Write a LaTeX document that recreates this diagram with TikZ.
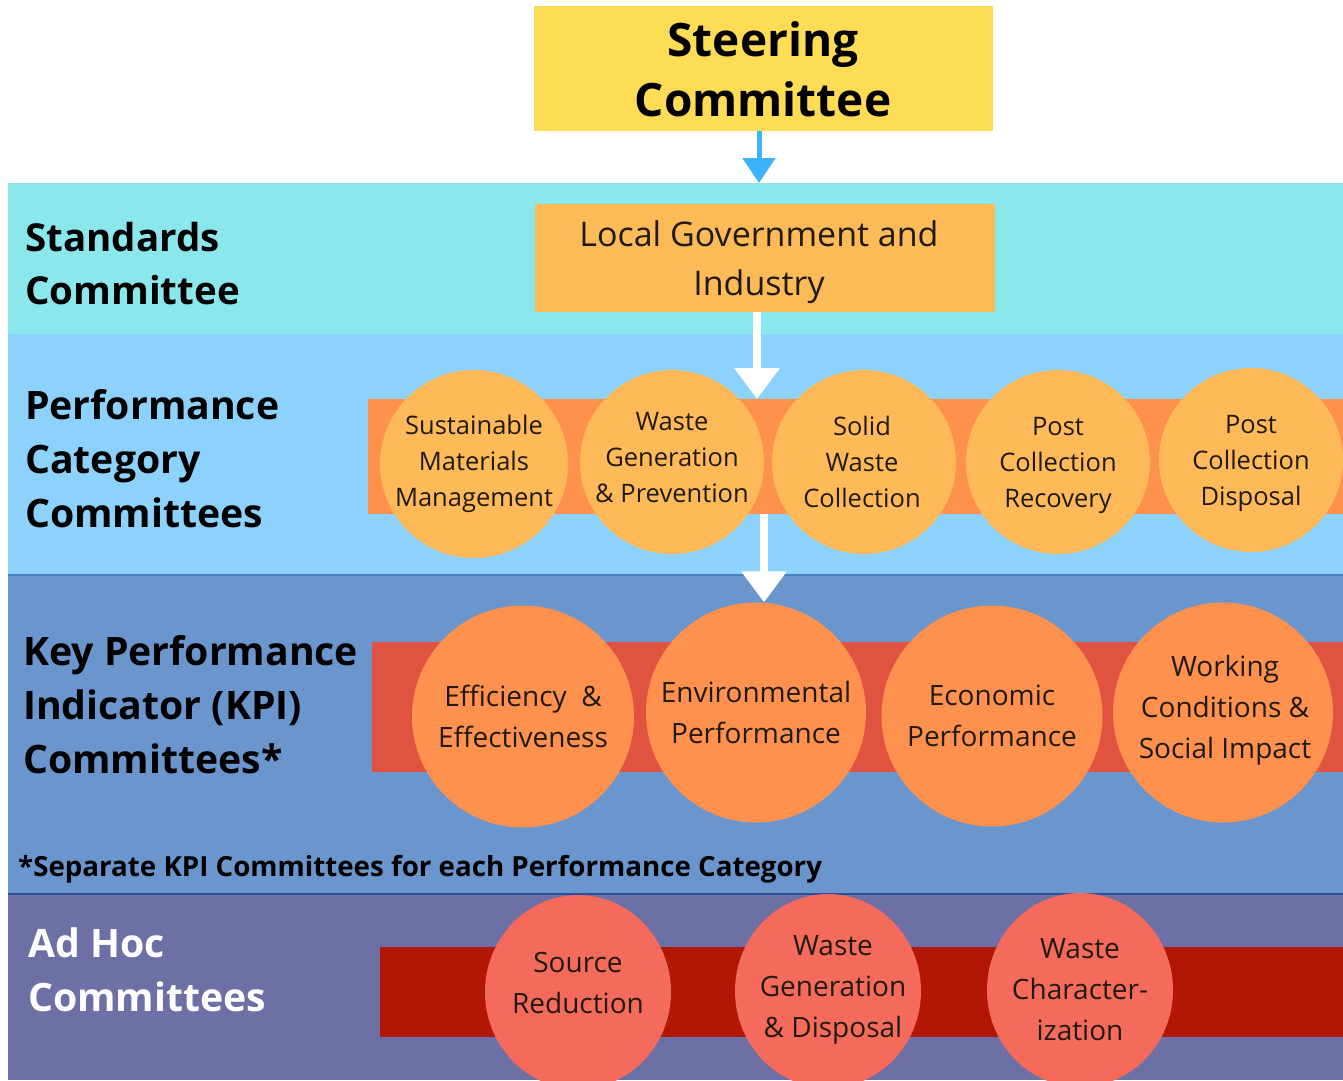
\documentclass[tikz,border=0pt]{standalone}
\usepackage{fontspec}
\setmainfont{Open Sans}
\usetikzlibrary{arrows.meta,shapes.geometric}
\definecolor{cYellow}{HTML}{FEDC56}
\definecolor{cStd}{HTML}{8AE8EC}
\definecolor{cPerf}{HTML}{8CD2FC}
\definecolor{cKPI}{HTML}{6A95CD}
\definecolor{cAdHoc}{HTML}{6D70A4}
\definecolor{cLgov}{HTML}{FDBB58}
\definecolor{cOrStrip}{HTML}{FE914D}
\definecolor{cPCirc}{HTML}{FEBA58}
\definecolor{cRedStrip}{HTML}{E05341}
\definecolor{cKCirc}{HTML}{FE914D}
\definecolor{cDarkRed}{HTML}{B21705}
\definecolor{cACirc}{HTML}{F46B5B}
\definecolor{cBlueArr}{HTML}{3CB4FC}
\definecolor{cTxt}{HTML}{221A12}
\definecolor{cLineA}{HTML}{4A80C6}
\definecolor{cLineB}{HTML}{2F4A9A}
\begin{document}
\begin{tikzpicture}[x=1pt,y=-1pt,
  title/.style={font=\bfseries\fontsize{39.2}{54}\selectfont, align=left, anchor=north west, inner sep=0pt},
  pcirc/.style={circle, fill=cPCirc, inner sep=0pt, minimum size=#1},
  kcirc/.style={circle, fill=cKCirc, inner sep=0pt, minimum size=#1},
  acirc/.style={ellipse, fill=cACirc, inner sep=0pt, minimum width=186pt, minimum height=194pt},
  ptext/.style={font=\fontsize{25.5}{36}\selectfont, align=center, text=cTxt, inner sep=0pt},
  ktext/.style={font=\fontsize{28}{41}\selectfont, align=center, text=cTxt, inner sep=0pt},
  atext/.style={font=\fontsize{28}{41}\selectfont, align=center, text=cTxt, inner sep=0pt},
  whitearr/.style={draw=white, line width=7.5pt, -{Triangle[width=44pt,length=31pt]}, shorten >=0pt},
  bluearr/.style={draw=cBlueArr, line width=5pt, -{Triangle[width=32pt,length=25pt]}}
]
\useasboundingbox (0,0) rectangle (1343,1080);
\fill[white] (0,0) rectangle (1343,1080);

% bands
\fill[cStd] (8,183) rectangle (1343,334);
\fill[cPerf] (8,334) rectangle (1343,575);
\fill[cKPI] (8,575) rectangle (1343,894);
\fill[cAdHoc] (8,894) rectangle (1343,1080);
\draw[line width=1.2pt, draw=cLineA] (8,575) -- (1343,575);
\draw[line width=1.2pt, draw=cLineB] (8,894) -- (1343,894);

% strips
\fill[cOrStrip] (368,399) rectangle (1343,514);
\fill[cRedStrip] (372,642) rectangle (1343,772);
\fill[cDarkRed] (380,947) rectangle (1343,1037);

% steering
\node[fill=cYellow, minimum width=459pt, minimum height=125pt, inner sep=0pt] (steer) at (763.5,68.5) {};
\node[font=\bfseries\fontsize{46}{60}\selectfont, align=center, inner sep=0pt] (steertxt) at (763,69) {Steering\\Committee};

% local government
\node[fill=cLgov, minimum width=460pt, minimum height=108pt, inner sep=0pt] (lgov) at (765,258) {};
\node[font=\fontsize{34}{49}\selectfont, align=center, text=cTxt, inner sep=0pt] (lgovtxt) at (759,262) {Local Government and\\Industry};

% left titles
\node[title, font=\bfseries\fontsize{38.5}{53}\selectfont] (stdt) at (25,222) {Standards\\Committee};
\node[title] (perft) at (25,389) {Performance\\Category\\Committees};
\node[title] (kpit) at (23,635) {Key Performance\\Indicator (KPI)\\Committees*};
\node[title, text=white] (adt) at (28,927) {Ad Hoc\\Committees};
\node[font=\bfseries\fontsize{27.7}{32}\selectfont, anchor=west, inner sep=0pt] (note) at (18,869) {*Separate KPI Committees for each Performance Category};

% performance circles
\node[pcirc=188pt] (p1) at (474,464) {};
\node[pcirc=184pt] (p2) at (672,462) {};
\node[pcirc=184pt] (p3) at (864,462) {};
\node[pcirc=184pt] (p4) at (1058,462) {};
\node[pcirc=184pt] (p5) at (1251,460) {};
\node[ptext] at (p1) {Sustainable\\Materials\\Management};
\node[ptext] at ([yshift=4pt]p2) {Waste\\Generation\\\& Prevention};
\node[ptext] at ([xshift=-2pt]p3) {Solid\\Waste\\Collection};
\node[ptext] at ([yshift=-3pt]p4) {Post\\Collection\\Recovery};
\node[ptext] at ([yshift=-3pt]p5) {Post\\Collection\\Disposal};

% KPI circles
\node[kcirc=222pt] (k1) at (523,716.5) {};
\node[kcirc=220pt] (k2) at (756,712.5) {};
\node[kcirc=221pt] (k3) at (992,716) {};
\node[kcirc=220pt] (k4) at (1223,712.5) {};
\node[ktext] at (k1) {Efficiency\ \ \&\\Effectiveness};
\node[ktext] at (k2) {Environmental\\Performance};
\node[ktext] at (k3) {Economic\\Performance};
\node[ktext] at ([xshift=2pt,yshift=2pt]k4) {Working\\Conditions \&\\Social Impact};

% ad hoc ellipses
\node[acirc] (a1) at (578,992) {};
\node[acirc] (a2) at (828,991) {};
\node[acirc] (a3) at (1080,990) {};
\node[atext] at ([yshift=9pt]a1) {Source\\Reduction};
\node[atext] at ([xshift=5pt,yshift=1pt]a2) {Waste\\Generation\\\& Disposal};
\node[atext] at (a3) {Waste\\Character-\\ization};

% arrows
\coordinate (b1) at (759,183);
\draw[bluearr] (steer.south -| b1) -- (b1);
\coordinate (w1) at (757,399);
\draw[whitearr] (lgov.south -| w1) -- (w1);
\coordinate (w2s) at (764,514);
\draw[whitearr] (w2s) -- (k2.north -| w2s);
\end{tikzpicture}
\end{document}
